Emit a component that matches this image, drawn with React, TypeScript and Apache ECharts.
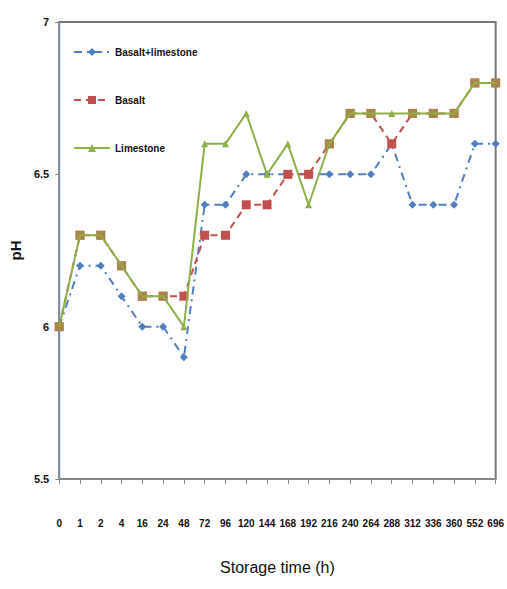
import React, { useEffect, useRef } from "react";
import * as echarts from "echarts";

const categories = ["0","1","2","4","16","24","48","72","96","120","144","168","192","216","240","264","288","312","336","360","552","696"];
const basaltLimestone = [6.0,6.2,6.2,6.1,6.0,6.0,5.9,6.4,6.4,6.5,6.5,6.5,6.5,6.5,6.5,6.5,6.6,6.4,6.4,6.4,6.6,6.6];
const basalt = [6.0,6.3,6.3,6.2,6.1,6.1,6.1,6.3,6.3,6.4,6.4,6.5,6.5,6.6,6.7,6.7,6.6,6.7,6.7,6.7,6.8,6.8];
const limestone = [6.0,6.3,6.3,6.2,6.1,6.1,6.0,6.6,6.6,6.7,6.5,6.6,6.4,6.6,6.7,6.7,6.7,6.7,6.7,6.7,6.8,6.8];
const yTicks = [5.5, 6, 6.5, 7];

const FONT = "'Liberation Sans', Arial, sans-serif";

export default function App() {
  const ref = useRef<HTMLDivElement>(null);
  useEffect(() => {
    if (!ref.current) return;
    const chart = echarts.init(ref.current, undefined, { renderer: "svg" });
    const limeData = limestone.map((v, i) =>
      v === basalt[i]
        ? { value: v, symbol: "rect", symbolSize: 9, itemStyle: { color: "rgba(150,170,70,0.6)" } }
        : { value: v }
    );
    chart.setOption({
      animation: false,
      backgroundColor: "#fff",
      textStyle: { fontFamily: FONT },
      grid: {
        left: 54, right: 9, top: 22, bottom: 110,
        show: true, borderColor: "#777", borderWidth: 2, backgroundColor: "transparent",
      },
      legend: {
        orient: "vertical",
        left: 68, top: 42,
        itemGap: 38,
        itemWidth: 36, itemHeight: 10,
        textStyle: { fontFamily: FONT, fontWeight: "bold", fontSize: 10, color: "#111" },
        data: ["Basalt+limestone", "Basalt", "Limestone"],
      },
      xAxis: {
        type: "category",
        data: categories,
        boundaryGap: false,
        name: "Storage time (h)",
        nameLocation: "middle",
        nameGap: 80,
        nameTextStyle: { fontFamily: FONT, fontSize: 16, color: "#111" },
        axisLine: { lineStyle: { color: "#888", width: 2 } },
        axisTick: { show: true, length: 5, lineStyle: { color: "#888" }, interval: 0 },
        axisLabel: { interval: 0, margin: 39, fontFamily: FONT, fontWeight: "bold", fontSize: 10, color: "#111" },
        splitLine: { show: false },
      },
      yAxis: {
        type: "value",
        min: 5.5, max: 7, interval: 0.5,
        name: "pH",
        nameLocation: "middle",
        nameGap: 24,
        nameRotate: 90,
        nameTextStyle: { fontFamily: FONT, fontWeight: "bold", fontSize: 15, color: "#111" },
        axisLine: { show: true, lineStyle: { color: "#6f8fbf", width: 1 } },
        axisTick: { show: true, length: 4, lineStyle: { color: "#888" } },
        axisLabel: {
          fontFamily: FONT, fontWeight: "bold", fontSize: 11, color: "#111", margin: 10,
          formatter: (v: number) => (yTicks.includes(v) ? String(v) : ""),
        },
        splitLine: { show: false },
      },
      series: [
        {
          name: "Basalt+limestone",
          type: "line",
          data: basaltLimestone,
          symbol: "diamond",
          symbolSize: 8,
          itemStyle: { color: "#4f7fbf" },
          lineStyle: { color: "#4f7fbf", width: 2, type: [8, 5, 2, 5] },
          z: 2,
        },
        {
          name: "Basalt",
          type: "line",
          data: basalt,
          symbol: "rect",
          symbolSize: 9,
          itemStyle: { color: "#c0504d" },
          lineStyle: { color: "#c0504d", width: 2, type: [7, 5] },
          z: 3,
        },
        {
          name: "Limestone",
          type: "line",
          data: limeData,
          symbol: "triangle",
          symbolSize: 7,
          itemStyle: { color: "#8db04a" },
          lineStyle: { color: "#8db04a", width: 2 },
          z: 4,
        },
      ],
    });
    return () => chart.dispose();
  }, []);
  return <div ref={ref} style={{ position: "absolute", left: 0, top: 0, width: 507, height: 589 }} />;
}
